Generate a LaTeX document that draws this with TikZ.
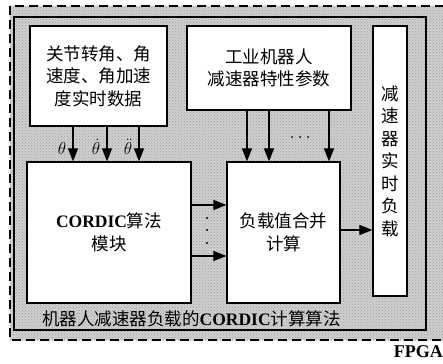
\documentclass[tikz,border=0pt]{standalone}
\usepackage{fontspec}
\setmainfont{Liberation Serif}
\newfontfamily\cjk{Noto Sans CJK SC}
\usetikzlibrary{arrows.meta,patterns}
\begin{document}
\begin{tikzpicture}[x=1pt,y=-1pt,
  box/.style={draw=black,line width=1.2pt,fill=white,inner sep=0pt,align=center,
    font=\fontsize{17.5}{22.5}\selectfont\cjk},
  arr/.style={line width=1.1pt,-{Triangle[length=13pt,width=10pt]}},
  lbl/.style={inner sep=0pt,font=\fontsize{19}{19}\selectfont},
  dotmark/.style={fill=black}]
\useasboundingbox (0,0) rectangle (443,363);
\clip (0,0) rectangle (443,363);
% background
\fill[gray!38] (10,6) rectangle (460,340);
\fill[pattern=crosshatch dots,pattern color=gray!75] (10,6) rectangle (460,340);
\draw[line width=2.6pt,dash pattern=on 9pt off 5pt] (10,6) rectangle (460,340);
\draw[line width=1.2pt] (14,17) rectangle (426,330);
% boxes
\node[box,minimum width=137pt,minimum height=100pt] (b1) at (98.5,76)
  {关节转角、角\\速度、角加速\\度实时数据};
\node[box,minimum width=164pt,minimum height=84pt] (b2) at (269,68)
  {工业机器人\\减速器特性参数};
\node[box,minimum width=34pt,minimum height=270pt] (b3) at (390,161)
  {减\\速\\器\\实\\时\\负\\载};
\node[box,minimum width=164pt,minimum height=141pt] (b4) at (109,232.5)
  {{\rmfamily\bfseries CORDIC}算法\\模块};
\node[box,minimum width=113pt,minimum height=141pt] (b5) at (283.5,232.5)
  {负载值合并\\计算};
% arrows b1 -> b4
\draw[arr] ([xshift=-25.5pt]b1.south) -- ([xshift=-25.5pt]b1.south |- b4.north);
\draw[arr] ([xshift=8.5pt]b1.south) -- ([xshift=8.5pt]b1.south |- b4.north);
\draw[arr] ([xshift=40.5pt]b1.south) -- ([xshift=40.5pt]b1.south |- b4.north);
\node[lbl] (t1) at (62,149) {$\theta$};
\node[lbl] (t2) at (96,147) {$\dot\theta$};
\node[lbl] (t3) at (128,147) {$\ddot\theta$};
% arrows b2 -> b5
\draw[arr] ([xshift=-22pt]b2.south) -- ([xshift=-22pt]b2.south |- b5.north);
\draw[arr] (b2.south) -- (b2.south |- b5.north);
\draw[arr] ([xshift=60pt]b2.south) -- ([xshift=60pt]b2.south |- b5.north);
\foreach \px in {292,300,308} \fill[dotmark] (\px,137) circle (1pt);
% arrows b4 -> b5
\draw[arr] ([yshift=27.5pt]b4.east) -- ([yshift=27.5pt]b4.east -| b5.west);
\draw[arr] ([yshift=-23.5pt]b4.east) -- ([yshift=-23.5pt]b4.east -| b5.west);
\foreach \py in {218,230,243} \fill[dotmark] (207,\py) circle (1.1pt);
% arrow b5 -> b3
\draw[arr] ([yshift=2.5pt]b5.east) -- ([yshift=2.5pt]b5.east -| b3.west);
% labels
\node[anchor=west,inner sep=0pt,font=\fontsize{17.5}{17.5}\selectfont] (alg) at (42,319)
  {{\cjk 机器人减速器负载的}{\bfseries CORDIC}{\cjk 计算算法}};
\node[anchor=east,inner sep=0pt,font=\fontsize{18}{18}\selectfont\bfseries] (fpga) at (443,352) {FPGA};
\end{tikzpicture}
\end{document}
